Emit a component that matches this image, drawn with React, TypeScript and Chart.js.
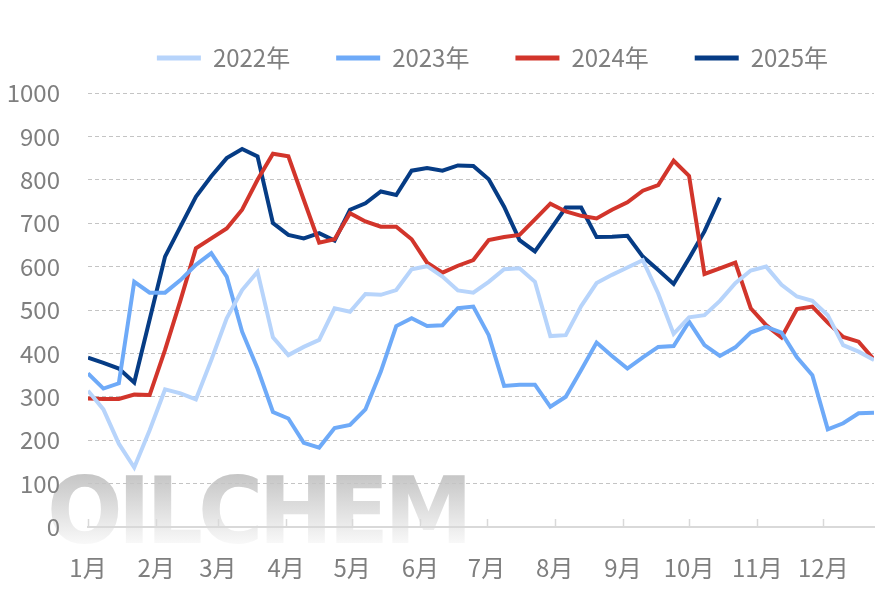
import React, { useEffect, useRef } from 'react';
import { Chart, registerables } from 'chart.js';

Chart.register(...registerables);

const seriesNames = ['2022年', '2023年', '2024年', '2025年'];
const monthLabels = ['1月', '2月', '3月', '4月', '5月', '6月', '7月', '8月', '9月', '10月', '11月', '12月'];
const monthStartDays = [0, 31, 59, 90, 120, 151, 181, 212, 243, 273, 304, 334];
const weekDays = [
  0, 7, 14, 21, 28, 35, 42, 49, 56, 63, 70, 77, 84, 91, 98, 105, 112, 119, 126, 133,
  140, 147, 154, 161, 168, 175, 182, 189, 196, 203, 210, 217, 224, 231, 238, 245, 252, 259, 266, 273,
  280, 287, 294, 301, 308, 315, 322, 329, 336, 343, 350, 357,
];

const v2022 = [314, 271, 192, 137, 223, 317, 308, 294, 385, 481, 546, 588, 437, 396, 415, 431, 504, 496, 537, 535, 546, 594, 601, 577, 545, 540, 565, 594, 596, 565, 440, 442, 509, 562, 581, 598, 615, 538, 445, 483, 488, 521, 562, 591, 600, 558, 531, 521, 488, 419, 404, 385];
const v2023 = [354, 319, 331, 565, 540, 540, 569, 604, 631, 577, 450, 365, 265, 250, 194, 183, 228, 235, 271, 358, 463, 481, 463, 465, 504, 508, 442, 325, 328, 328, 277, 300, 362, 425, 394, 365, 391, 415, 417, 473, 419, 394, 414, 448, 461, 448, 391, 350, 225, 239, 262, 263];
const v2024 = [296, 295, 295, 305, 304, 408, 522, 642, 665, 688, 731, 800, 860, 854, 754, 655, 663, 723, 704, 692, 692, 663, 609, 586, 602, 615, 661, 668, 673, 709, 745, 727, 717, 711, 731, 748, 775, 788, 844, 809, 583, 596, 609, 504, 465, 437, 502, 508, 471, 438, 427, 386];
const v2025 = [390, 378, 365, 333, 478, 623, 692, 761, 808, 850, 871, 854, 700, 673, 665, 677, 660, 731, 746, 773, 765, 821, 827, 821, 833, 832, 801, 738, 661, 635, 685, 736, 736, 668, 669, 671, 623, 592, 560, 619, 681, 759];

const seriesValues = [v2022, v2023, v2024, v2025];
const seriesColors = ['#b7d4fb', '#6eaaf8', '#d2352b', '#063c85'];
const watermarkText = 'OILCHEM';

const FONT = "'Noto Sans CJK SC', 'Noto Sans', sans-serif";
const TEXT_GRAY = '#7f7f7f';

const decorPlugin = {
  id: 'decor',
  beforeDraw(chart: any) {
    const ctx = chart.ctx;
    ctx.save();
    ctx.font = "bold 93px 'DejaVu Sans', sans-serif";
    try {
      (ctx as any).letterSpacing = '-5px';
    } catch (e) {
      /* ignore */
    }
    ctx.textBaseline = 'alphabetic';
    const w = ctx.measureText(watermarkText).width;
    ctx.translate(47, 543);
    ctx.scale(421 / w, 1);
    const grad = ctx.createLinearGradient(0, -68, 0, 0);
    grad.addColorStop(0, 'rgb(198,198,198)');
    grad.addColorStop(1, 'rgb(248,248,248)');
    ctx.fillStyle = grad;
    ctx.fillText(watermarkText, 0, 0);
    ctx.restore();
  },
  beforeDatasetsDraw(chart: any) {
    const ctx = chart.ctx;
    const xs = chart.scales.x;
    const bottom = chart.chartArea.bottom;
    ctx.save();
    ctx.strokeStyle = '#d9d9d9';
    ctx.lineWidth = 1.5;
    monthStartDays.forEach((d) => {
      const px = Math.round(xs.getPixelForValue(d)) + 0.5;
      ctx.beginPath();
      ctx.moveTo(px, bottom - 8);
      ctx.lineTo(px, bottom);
      ctx.stroke();
    });
    ctx.restore();
  },
};

export default function App() {
  const ref = useRef<HTMLCanvasElement | null>(null);

  useEffect(() => {
    if (!ref.current) return;
    const datasets = seriesNames.map((name, s) => ({
      label: name,
      data: seriesValues[s].map((v, i) => ({ x: weekDays[i], y: v })),
      borderColor: seriesColors[s],
      backgroundColor: seriesColors[s],
      borderWidth: 4,
      pointRadius: 0,
      tension: 0,
      fill: false,
    }));

    const chart = new Chart(ref.current, {
      type: 'line',
      data: { datasets },
      plugins: [decorPlugin],
      options: {
        responsive: false,
        animation: false,
        events: [],
        layout: { padding: { left: 0, right: 12, top: 0, bottom: 0 } },
        plugins: {
          tooltip: { enabled: false },
          legend: {
            display: true,
            position: 'top',
            align: 'end',
            labels: {
              boxWidth: 44,
              boxHeight: 5,
              padding: 46,
              color: TEXT_GRAY,
              font: { family: FONT, size: 24 },
              generateLabels: (c: any) =>
                (Chart.defaults.plugins.legend.labels.generateLabels as any)(c).map((l: any) => ({
                  ...l,
                  lineWidth: 0,
                })),
            },
          },
        },
        scales: {
          x: {
            type: 'linear',
            min: 0,
            max: 357,
            grid: { display: false, drawTicks: false },
            border: { display: true, color: '#d9d9d9', width: 2 },
            afterBuildTicks: (scale: any) => {
              scale.ticks = monthStartDays.map((v) => ({ value: v }));
            },
            afterFit: (scale: any) => {
              scale.height = 64;
            },
            ticks: {
              autoSkip: false,
              maxRotation: 0,
              padding: 26,
              color: TEXT_GRAY,
              font: { family: FONT, size: 24 },
              callback: (value: any) => monthLabels[monthStartDays.indexOf(Number(value))] ?? '',
            },
          },
          y: {
            min: 0,
            max: 1000,
            grid: { color: '#c4c4c4', lineWidth: 1, drawTicks: false },
            border: { display: false, dash: [4, 3] },
            afterFit: (scale: any) => {
              scale.width = 88;
            },
            ticks: {
              stepSize: 100,
              padding: 28,
              color: TEXT_GRAY,
              font: { family: FONT, size: 24 },
              callback: (value: any) => String(value),
            },
          },
        },
      } as any,
    });

    const legend: any = (chart as any).legend;
    if (legend) {
      const origFit = legend.fit.bind(legend);
      legend.fit = () => {
        origFit();
        legend.height = 93;
      };
      chart.update();
    }

    return () => chart.destroy();
  }, []);

  return (
    <div style={{ position: 'fixed', left: 0, top: 0, width: 886, height: 591, background: '#fff' }}>
      <canvas ref={ref} width={886} height={591} />
    </div>
  );
}
